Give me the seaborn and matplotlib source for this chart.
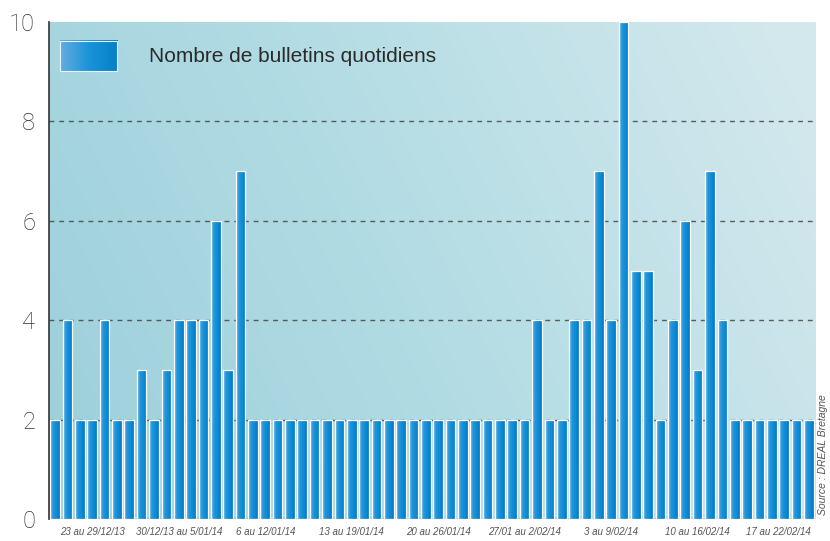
import numpy as np
import pandas as pd
import matplotlib
matplotlib.use("Agg")
import matplotlib.pyplot as plt
import seaborn as sns
from matplotlib.colors import LinearSegmentedColormap

# ---- data ----
values = [2, 4, 2, 2, 4, 2, 2,
          3, 2, 3, 4, 4, 4, 6,
          3, 7, 2, 2, 2, 2, 2,
          2, 2, 2, 2, 2, 2, 2,
          2, 2, 2, 2, 2, 2, 2,
          2, 2, 2, 2, 4, 2, 2,
          4, 4, 7, 4, 10, 5, 5,
          2, 4, 6, 3, 7, 4, 2,
          2, 2, 2, 2, 2, 2]
days = pd.date_range("2013-12-23", "2014-02-22", freq="D").strftime("%d/%m/%y").tolist()
week_labels = ["23 au 29/12/13", "30/12/13 au 5/01/14", "6 au 12/01/14",
               "13 au 19/01/14", "20 au 26/01/14", "27/01 au 2/02/14",
               "3 au 9/02/14", "10 au 16/02/14", "17 au 22/02/14"]
y_ticks = [0, 2, 4, 6, 8, 10]
series_name = "Nombre de bulletins quotidiens"
source = "Source : DREAL Bretagne"

df = pd.DataFrame({"jour": days, "n": values})

sns.set_style("white")
plt.rcParams["font.family"] = ["Liberation Sans", "DejaVu Sans"]

fig = plt.figure(figsize=(8.3, 5.41), dpi=100)
ax = fig.add_axes([49/830, 22/541, (815-49)/830, (519-22)/541])

# background gradient
h, w = 50, 100
xx, yy = np.meshgrid(np.linspace(0, 1, w), np.linspace(0, 1, h))
t = np.clip(0.8 * xx + 0.25 * yy, 0, 1)
bg_cmap = LinearSegmentedColormap.from_list("bg", ["#9bcfdb", "#b3dce4", "#d2e8ed"])
ax.imshow(t, cmap=bg_cmap, extent=[0, 1, 0, 1], transform=ax.transAxes,
          origin="lower", aspect="auto", zorder=0, interpolation="bilinear")

sns.barplot(data=df, x="jour", y="n", ax=ax, width=0.78, color="#0a88d2",
            edgecolor="white", linewidth=0.9, zorder=3)

bar_cmap = LinearSegmentedColormap.from_list(
    "bar", [(0, "#6ab2e2"), (0.35, "#1f95da"), (0.75, "#0888d4"), (1, "#0674bd")])
grad = np.linspace(0, 1, 64).reshape(1, -1)
for p in ax.patches:
    x0, y0 = p.get_x(), p.get_y()
    bw, bh = p.get_width(), p.get_height()
    im = ax.imshow(grad, cmap=bar_cmap, extent=[x0, x0 + bw, y0, y0 + bh],
                   aspect="auto", zorder=2.5, interpolation="bilinear")
    im.set_clip_path(p)
    p.set_facecolor("none")

ax.set_xlim(-0.5, len(values) - 0.5)
ax.set_ylim(0, 10)

# grid
for yv in y_ticks[:-1]:
    ax.axhline(yv, color="#444444", lw=1.0, ls=(0, (3.5, 3.5)), zorder=1, alpha=0.85)

# spines
for s in ["top", "right", "bottom"]:
    ax.spines[s].set_visible(False)
ax.spines["left"].set_color("#333333")
ax.spines["left"].set_linewidth(1.2)
ax.spines["left"].set_zorder(5)

ax.set_yticks(y_ticks)
ax.set_yticklabels([str(v) for v in y_ticks], fontsize=17, color="#333333",
                   fontfamily=["Roboto", "DejaVu Sans"], fontweight="light")
ax.tick_params(axis="y", length=0, pad=10)

# week boundary ticks and week labels
boundaries = [6.5 + 7 * i for i in range(8)]
centers = [3 + 7 * i for i in range(8)] + [58.5]
ax.set_xticks(boundaries)
ax.set_xticklabels([""] * len(boundaries))
ax.tick_params(axis="x", which="major", length=7, width=1.0, color="#444444", direction="out")
ax.set_xticks(centers, minor=True)
ax.set_xticklabels(week_labels, minor=True, fontsize=7, color="#555555", style="italic")
ax.tick_params(axis="x", which="minor", length=0, pad=6)
ax.set_xlabel("")
ax.set_ylabel("")

# legend (gradient patch + text)
leg_cmap = LinearSegmentedColormap.from_list("leg", ["#64ade0", "#1a93d8", "#0580c8"])
ax.imshow(grad, cmap=leg_cmap, extent=[0.0144, 0.089, 0.901, 0.962],
          transform=ax.transAxes, aspect="auto", zorder=4, interpolation="bilinear")
ax.add_patch(plt.Rectangle((0.0144, 0.901), 0.0746, 0.061, transform=ax.transAxes,
                           fill=False, edgecolor="#e8f4fa", lw=0.8, zorder=4.5))
ax.text(0.1305, 0.930, series_name, transform=ax.transAxes, fontsize=15,
        color="#2a2a2a", va="center", ha="left", zorder=5)

fig.text(0.992, 0.159, source, rotation=90, ha="center", va="center",
         fontsize=7.5, color="#555555", style="italic")

fig.savefig("out.png", dpi=100)
